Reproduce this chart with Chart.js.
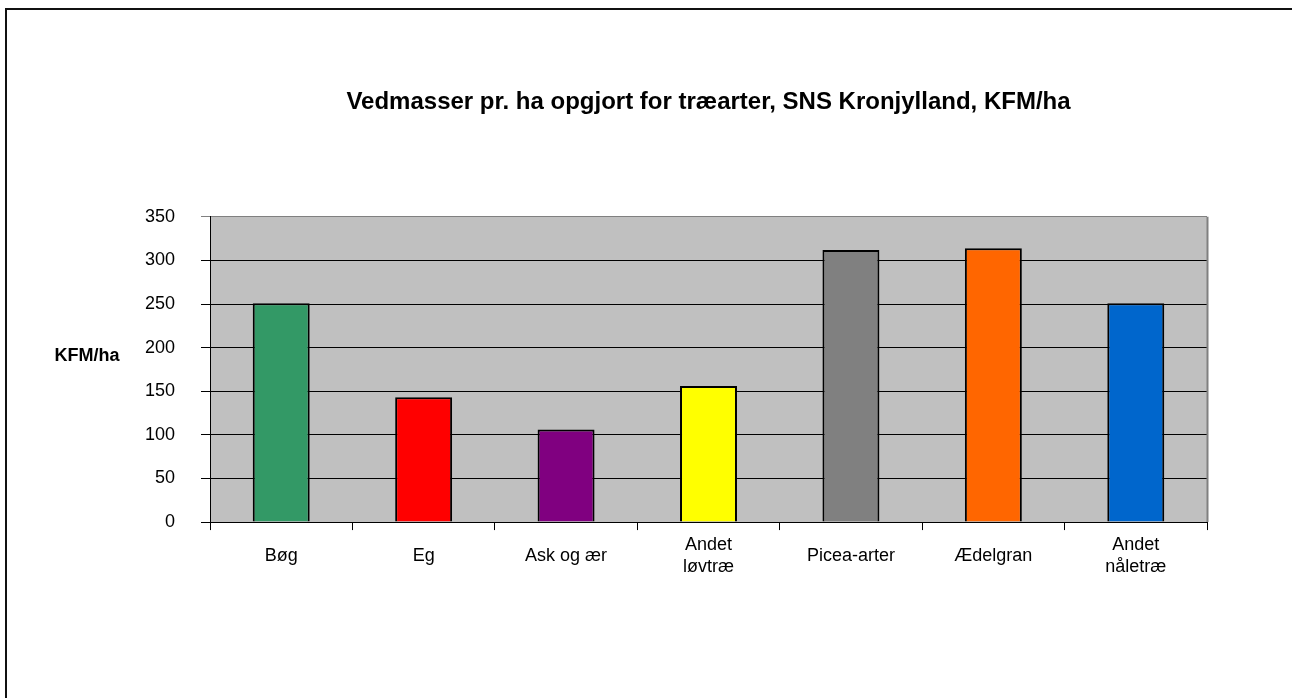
<!DOCTYPE html>
<html lang="da">
<head>
    <meta charset="UTF-8">
    <title>Vedmasser pr. ha</title>
    <style>
        html, body { margin: 0; padding: 0; background: #fff; }
        #frame {
            position: absolute; left: 5px; top: 8px; right: 0; bottom: 0;
            border-top: 2px solid #111; border-left: 2px solid #111;
        }
        #wrap { position: absolute; left: 0; top: 0; width: 1292px; height: 698px; }
    </style>
</head>
<body>
    <div id="frame"></div>
    <div id="wrap"><canvas id="myChart"></canvas></div>

    <script src="https://cdn.jsdelivr.net/npm/chart.js"></script>
    <script>
    // data
    const categories = ['Bøg', 'Eg', 'Ask og ær', ['Andet', 'løvtræ'], 'Picea-arter', 'Ædelgran', ['Andet', 'nåletræ']];
    const values = [251, 143, 106, 156, 312, 314, 251];
    const barColors = ['#339966', '#ff0000', '#800080', '#ffff00', '#808080', '#ff6600', '#0066cc'];
    const yTicks = [0, 50, 100, 150, 200, 250, 300, 350];

    const FONT = "'Liberation Sans', Arial, sans-serif";

    // grey plot background + axis title drawn horizontally
    const plotBg = {
        id: 'plotBg',
        beforeDraw(chart) {
            const a = chart.chartArea, c = chart.ctx;
            c.save();
            c.fillStyle = '#c0c0c0';
            c.fillRect(a.left, a.top, a.right - a.left, a.bottom - a.top);
            c.restore();
        },
        afterDraw(chart) {
            const a = chart.chartArea, c = chart.ctx;
            c.save();
            c.strokeStyle = '#808080';
            c.lineWidth = 2;
            c.beginPath();
            c.moveTo(a.right + 0.5, a.top);
            c.lineTo(a.right + 0.5, a.bottom);
            c.stroke();
            c.fillStyle = '#000';
            c.font = 'bold 18px ' + FONT;
            c.textAlign = 'center';
            c.textBaseline = 'middle';
            c.fillText('KFM/ha', 87, a.top + 139);
            c.restore();
        }
    };

    const ctx = document.getElementById('myChart');
    const myChart = new Chart(ctx, {
        type: 'bar',
        data: {
            labels: categories,
            datasets: [{
                label: 'KFM/ha',
                data: values,
                backgroundColor: barColors,
                borderColor: '#000',
                borderWidth: 2,
                barPercentage: 0.4,
                categoryPercentage: 1
            }]
        },
        options: {
            responsive: true,
            maintainAspectRatio: false,
            animation: false,
            layout: { padding: { left: 0, right: 85, top: 0, bottom: 94 } },
            plugins: {
                legend: { display: false },
                tooltip: { enabled: false },
                title: {
                    display: true,
                    fullSize: false,
                    text: 'Vedmasser pr. ha opgjort for træarter, SNS Kronjylland, KFM/ha',
                    color: '#000',
                    font: { family: FONT, size: 24, weight: 'bold', lineHeight: 1.2 },
                    padding: { top: 88, bottom: 100 }
                }
            },
            scales: {
                x: {
                    offset: true,
                    grid: {
                        offset: true,
                        drawOnChartArea: false,
                        drawTicks: true,
                        tickLength: 8,
                        color: '#000'
                    },
                    border: { color: '#000', width: 1 },
                    ticks: {
                        color: '#000',
                        font: { family: FONT, size: 18, lineHeight: 1.22 },
                        padding: 15,
                        crossAlign: 'center',
                        maxRotation: 0,
                        autoSkip: false
                    }
                },
                y: {
                    min: 0,
                    max: 350,
                    afterFit(scale) { scale.width = 210; },
                    afterBuildTicks(scale) { scale.ticks = yTicks.map(v => ({ value: v })); },
                    grid: {
                        color: (c) => c.tick && c.tick.value === 350 ? '#808080' : '#000',
                        tickLength: 9,
                        drawTicks: true
                    },
                    border: { color: '#000', width: 1 },
                    ticks: {
                        color: '#000',
                        font: { family: FONT, size: 18 },
                        padding: 26
                    }
                }
            }
        },
        plugins: [plotBg]
    });
    </script>
</body>
</html>
